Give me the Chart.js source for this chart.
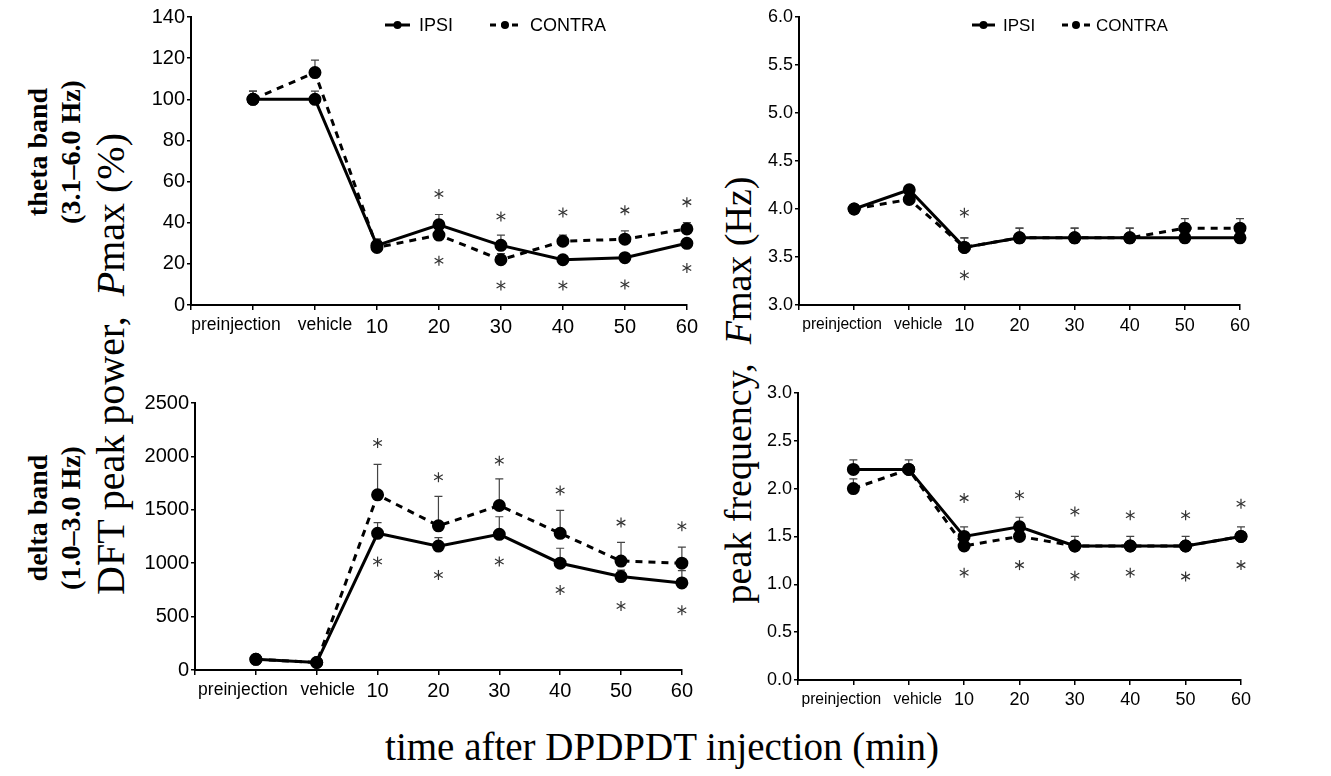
<!DOCTYPE html>
<html lang="en">
<head>
    <meta charset="UTF-8">
    <title>DPDPDT peak power / peak frequency</title>
    <style>
        body {
            margin: 0;
            background: #fff;
            width: 1331px;
            height: 776px;
            position: relative;
            overflow: hidden;
            font-family: "Liberation Serif", "Times New Roman", serif;
        }

        canvas {
            position: absolute;
        }

        .lbl {
            position: absolute;
            white-space: nowrap;
            transform: translate(-50%, -50%) rotate(-90deg);
            color: #000;
        }

        .band {
            font-weight: bold;
            font-size: 28px;
        }

        .ytitle {
            font-size: 38px;
        }

        #xtitle {
            position: absolute;
            left: 662px;
            top: 746px;
            transform: translate(-50%, -50%);
            font-size: 39px;
            white-space: nowrap;
        }
    </style>
    <script src="https://cdn.jsdelivr.net/npm/chart.js"></script>
</head>
<body>

    <div class="lbl band" style="left:38px; top:152px;">theta band</div>
    <div class="lbl band" style="left:71px; top:152px;">(3.1–6.0 Hz)</div>
    <div class="lbl band" style="left:38px; top:518px;">delta band</div>
    <div class="lbl band" style="left:71px; top:518px;">(1.0–3.0 Hz)</div>
    <div class="lbl ytitle" style="left:110px; top:364px; font-size:40px;">DFT peak power,&nbsp; <i>P</i>max (%)</div>
    <div class="lbl ytitle" style="left:738px; top:390px;">peak frequency,&nbsp; <i>F</i>max (Hz)</div>
    <div id="xtitle">time after DPDPDT injection (min)</div>

    <canvas id="thetaPower"></canvas>
    <canvas id="thetaFreq"></canvas>
    <canvas id="deltaPower"></canvas>
    <canvas id="deltaFreq"></canvas>

    <script>
        // x categories
        var categories = ['preinjection', 'vehicle', '10', '20', '30', '40', '50', '60'];

        // theta band, Pmax (%)
        var thetaPowIpsi = [100, 100, 29, 39, 29, 22, 23, 30];
        var thetaPowContra = [100, 113, 28, 34, 22, 31, 32, 37];
        var thetaPowIpsiSem = [4, 4, 3, 5, 5, 2, 2, 2];
        var thetaPowContraSem = [4, 6, 4, 3, 3, 3, 4, 3];
        var thetaPowStarUp = [null, null, null, 54, 43, 45, 46, 50];
        var thetaPowStarDown = [null, null, null, 21.5, 9.5, 9.5, 10, 18];

        // theta band, Fmax (Hz)
        var thetaFreqIpsi = [4.0, 4.2, 3.6, 3.7, 3.7, 3.7, 3.7, 3.7];
        var thetaFreqContra = [4.0, 4.1, 3.6, 3.7, 3.7, 3.7, 3.8, 3.8];
        var thetaFreqIpsiSem = [0, 0, 0.1, 0.1, 0.1, 0.1, 0, 0];
        var thetaFreqContraSem = [0, 0, 0.1, 0.1, 0.1, 0.1, 0.1, 0.1];
        var thetaFreqStarUp = [null, null, 3.96, null, null, null, null, null];
        var thetaFreqStarDown = [null, null, 3.31, null, null, null, null, null];

        // delta band, peak power
        var deltaPowIpsi = [100, 70, 1280, 1160, 1270, 1000, 875, 815];
        var deltaPowContra = [100, 70, 1640, 1350, 1540, 1280, 1020, 1000];
        var deltaPowIpsiSem = [0, 0, 100, 80, 165, 140, 60, 115];
        var deltaPowContraSem = [0, 0, 285, 275, 250, 215, 175, 150];
        var deltaPowStarUp = [null, null, 2125, 1805, 1960, 1680, 1380, 1345];
        var deltaPowStarDown = [null, null, 1015, 890, 1015, 750, 600, 560];

        // delta band, peak frequency
        var deltaFreqIpsi = [2.2, 2.2, 1.5, 1.6, 1.4, 1.4, 1.4, 1.5];
        var deltaFreqContra = [2.0, 2.2, 1.4, 1.5, 1.4, 1.4, 1.4, 1.5];
        var deltaFreqIpsiSem = [0.1, 0.1, 0.1, 0.1, 0.1, 0.1, 0.1, 0.1];
        var deltaFreqContraSem = [0.1, 0, 0, 0, 0, 0, 0, 0];
        var deltaFreqStarUp = [null, null, 1.90, 1.93, 1.76, 1.72, 1.72, 1.84];
        var deltaFreqStarDown = [null, null, 1.12, 1.20, 1.09, 1.12, 1.08, 1.20];

        var SANS = '"Liberation Sans", Arial, sans-serif';

        // error bars (upper half only), drawn under the lines
        var errorBars = {
            id: 'errorBars',
            beforeDatasetsDraw: function (chart) {
                var ctx = chart.ctx;
                var x = chart.scales.x, y = chart.scales.y;
                var sems = chart.options.plugins.errorBars.sems;
                ctx.save();
                ctx.strokeStyle = '#444';
                ctx.lineWidth = 1.2;
                chart.data.datasets.forEach(function (ds, d) {
                    ds.data.forEach(function (v, i) {
                        var s = sems[d][i - 1];
                        if (v == null || !s) return;
                        var px = x.getPixelForValue(i);
                        var y0 = y.getPixelForValue(v);
                        var y1 = y.getPixelForValue(v + s);
                        ctx.beginPath();
                        ctx.moveTo(px, y0);
                        ctx.lineTo(px, y1);
                        ctx.moveTo(px - 4, y1);
                        ctx.lineTo(px + 4, y1);
                        ctx.stroke();
                    });
                });
                ctx.restore();
            }
        };

        // word tick labels, significance asterisks, legend
        var marks = {
            id: 'marks',
            afterDraw: function (chart) {
                var ctx = chart.ctx;
                var x = chart.scales.x, y = chart.scales.y;
                var opt = chart.options.plugins.marks;
                ctx.save();

                // 'preinjection' / 'vehicle' sit a little off their ticks in the original
                ctx.fillStyle = '#000';
                ctx.font = opt.wordSize + 'px ' + SANS;
                ctx.textAlign = 'center';
                ctx.textBaseline = 'middle';
                [0, 1].forEach(function (i) {
                    var px = x.getPixelForValue(i + 1) + opt.wordShift[i];
                    ctx.fillText(categories[i], px, chart.chartArea.bottom + 20);
                });

                ctx.strokeStyle = '#333';
                ctx.lineWidth = 1.2;
                opt.stars.forEach(function (arr) {
                    arr.forEach(function (v, i) {
                        if (v == null) return;
                        var cx = x.getPixelForValue(i + 1);
                        var cy = y.getPixelForValue(v);
                        for (var k = 0; k < 3; k++) {
                            var a = Math.PI / 2 + k * Math.PI / 3;
                            ctx.beginPath();
                            ctx.moveTo(cx - 5 * Math.cos(a), cy - 5 * Math.sin(a));
                            ctx.lineTo(cx + 5 * Math.cos(a), cy + 5 * Math.sin(a));
                            ctx.stroke();
                        }
                    });
                });

                if (opt.legend) {
                    var L = opt.legend;
                    var left = chart.chartArea.left;
                    var ly = chart.chartArea.top + 8;
                    ctx.strokeStyle = '#000';
                    ctx.lineWidth = 3;
                    // IPSI
                    ctx.beginPath();
                    ctx.moveTo(left + L[0], ly);
                    ctx.lineTo(left + L[1], ly);
                    ctx.stroke();
                    ctx.beginPath();
                    ctx.arc(left + (L[0] + L[1]) / 2, ly, 4, 0, Math.PI * 2);
                    ctx.fill();
                    // CONTRA
                    ctx.setLineDash([6, 5]);
                    ctx.beginPath();
                    ctx.moveTo(left + L[3], ly);
                    ctx.lineTo(left + L[4], ly);
                    ctx.stroke();
                    ctx.setLineDash([]);
                    ctx.beginPath();
                    ctx.arc(left + (L[3] + L[4]) / 2, ly, 4, 0, Math.PI * 2);
                    ctx.fill();
                    ctx.font = L[6] + 'px ' + SANS;
                    ctx.textAlign = 'left';
                    ctx.fillText('IPSI', left + L[2], ly + 1);
                    ctx.fillText('CONTRA', left + L[5], ly + 1);
                }
                ctx.restore();
            }
        };

        function makePanel(id, box, ipsi, contra, ipsiSem, contraSem, starUp, starDown, yOpts) {
            var canvas = document.getElementById(id);
            canvas.width = box.w;
            canvas.height = box.h;
            canvas.style.left = box.left + 'px';
            canvas.style.top = box.top + 'px';

            var labels = [''].concat(categories);

            return new Chart(canvas.getContext('2d'), {
                type: 'line',
                data: {
                    labels: labels,
                    datasets: [
                        {
                            label: 'CONTRA',
                            data: [null].concat(contra),
                            borderColor: '#000',
                            borderWidth: 3,
                            borderDash: [7, 6],
                            pointRadius: 5,
                            pointBackgroundColor: '#000',
                            pointBorderColor: '#000',
                            tension: 0
                        },
                        {
                            label: 'IPSI',
                            data: [null].concat(ipsi),
                            borderColor: '#000',
                            borderWidth: 3,
                            pointRadius: 5,
                            pointBackgroundColor: '#000',
                            pointBorderColor: '#000',
                            tension: 0
                        }
                    ]
                },
                options: {
                    responsive: false,
                    animation: false,
                    layout: { padding: { top: box.padTop, right: 14, bottom: 0, left: 0 } },
                    plugins: {
                        legend: { display: false },
                        tooltip: { enabled: false },
                        errorBars: { sems: [contraSem, ipsiSem] },
                        marks: {
                            stars: [starUp, starDown],
                            legend: box.legend,
                            wordSize: box.wordSize,
                            wordShift: box.wordShift
                        }
                    },
                    scales: {
                        x: {
                            type: 'category',
                            offset: false,
                            afterFit: function (s) { s.height = 35; },
                            grid: { drawOnChartArea: false, drawTicks: true, tickLength: 5, color: '#000', lineWidth: 1.5 },
                            border: { display: true, color: '#000', width: 2 },
                            ticks: {
                                autoSkip: false,
                                maxRotation: 0,
                                padding: box.xPad,
                                color: '#000',
                                font: { family: SANS, size: box.numSize },
                                callback: function (v, i) { return i <= 2 ? '' : this.getLabelForValue(v); }
                            }
                        },
                        y: {
                            min: yOpts.min,
                            max: yOpts.max,
                            afterFit: function (s) { s.width = box.yWidth; },
                            grid: { drawOnChartArea: false, drawTicks: true, tickLength: 4, color: '#000', lineWidth: 1.5 },
                            border: { display: true, color: '#000', width: 2 },
                            ticks: {
                                stepSize: yOpts.step,
                                padding: 2,
                                color: '#000',
                                font: { family: SANS, size: box.ySize },
                                callback: function (v) { return yOpts.dec ? v.toFixed(yOpts.dec) : v; }
                            }
                        }
                    }
                },
                plugins: [errorBars, marks]
            });
        }

        makePanel('thetaPower',
            { left: 140, top: 0, w: 563, h: 340, padTop: 17, yWidth: 51, ySize: 20, numSize: 20, wordSize: 17.5,
              wordShift: [-17, 10], xPad: 5, legend: [194, 219, 228, 299, 329, 339, 18] },
            thetaPowIpsi, thetaPowContra, thetaPowIpsiSem, thetaPowContraSem, thetaPowStarUp, thetaPowStarDown,
            { min: 0, max: 140, step: 20, dec: 0 });

        makePanel('thetaFreq',
            { left: 755, top: 0, w: 500, h: 340, padTop: 17, yWidth: 44, ySize: 18, numSize: 18, wordSize: 15.6,
              wordShift: [-12, 9], xPad: 5, legend: [173, 196, 204, 263, 291, 297, 17] },
            thetaFreqIpsi, thetaFreqContra, thetaFreqIpsiSem, thetaFreqContraSem, thetaFreqStarUp, thetaFreqStarDown,
            { min: 3, max: 6, step: 0.5, dec: 1 });

        makePanel('deltaPower',
            { left: 140, top: 380, w: 557, h: 325, padTop: 23, yWidth: 55, ySize: 20, numSize: 20, wordSize: 17.5,
              wordShift: [-13, 11], xPad: 4, legend: null },
            deltaPowIpsi, deltaPowContra, deltaPowIpsiSem, deltaPowContraSem, deltaPowStarUp, deltaPowStarDown,
            { min: 0, max: 2500, step: 500, dec: 0 });

        makePanel('deltaFreq',
            { left: 755, top: 380, w: 500, h: 335, padTop: 12, yWidth: 43, ySize: 18, numSize: 18, wordSize: 15.6,
              wordShift: [-12, 9], xPad: 4, legend: null },
            deltaFreqIpsi, deltaFreqContra, deltaFreqIpsiSem, deltaFreqContraSem, deltaFreqStarUp, deltaFreqStarDown,
            { min: 0, max: 3, step: 0.5, dec: 1 });
    </script>

</body>
</html>
